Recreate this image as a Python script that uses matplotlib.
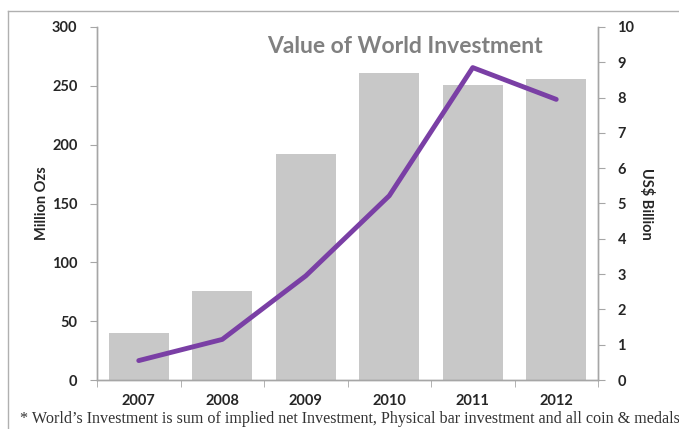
import matplotlib.pyplot as plt
from matplotlib.lines import Line2D
import numpy as np

years = ["2007", "2008", "2009", "2010", "2011", "2012"]
million_ozs = [40, 76, 192, 261, 251, 256]
usd_billion = [0.55, 1.15, 2.95, 5.22, 8.85, 7.95]

left_ticks = [0, 50, 100, 150, 200, 250, 300]
right_ticks = list(range(0, 11))

sans = ["Lato", "DejaVu Sans"]
axis_grey = "#a6a6a6"
text_dark = "#262626"

fig = plt.figure(figsize=(6.79, 4.29), dpi=100)
ax = fig.add_axes([97 / 679, 1 - 380 / 429, 501 / 679, 353 / 429])
ax2 = ax.twinx()

x = np.arange(len(years))
ax.bar(x, million_ozs, width=0.72, color="#c8c8c8", zorder=1)
ax2.plot(x, usd_billion, color="#7a3fa5", linewidth=3.5,
         solid_capstyle="round", zorder=3)

ax.set_xlim(-0.5, len(years) - 0.5)
ax.set_ylim(0, 300)
ax2.set_ylim(0, 10)

ax.set_yticks(left_ticks)
ax2.set_yticks(right_ticks)
ax.set_xticks(x)
ax.set_xticklabels(years)
# category boundary ticks on the x axis
ax.set_xticks(np.arange(-0.5, len(years) + 0.5, 1), minor=True)
ax.tick_params(axis="x", which="major", length=0, pad=10)
ax.tick_params(axis="x", which="minor", length=5, color=axis_grey,
               direction="out")
ax.tick_params(axis="y", length=5, color=axis_grey, pad=9)
ax2.tick_params(axis="y", length=5, color=axis_grey, pad=9)

for a in (ax, ax2):
    for lab in a.get_xticklabels() + a.get_yticklabels():
        lab.set_family(sans)
        lab.set_fontweight("bold")
        lab.set_fontsize(10.5)
        lab.set_color(text_dark)
    a.spines["top"].set_visible(False)
    for side in ("left", "right", "bottom"):
        a.spines[side].set_color(axis_grey)
        a.spines[side].set_linewidth(1.0)

ax.set_ylabel("Million Ozs", family=sans, fontweight="bold", fontsize=10.5,
              color=text_dark, labelpad=2)
ax2.set_ylabel("US$ Billion", family=sans, fontweight="bold", fontsize=10.5,
               color=text_dark, rotation=-90, labelpad=14)

ax.text(0.615, 0.945, "Value of World Investment", transform=ax.transAxes,
        ha="center", va="center", family=sans, fontweight="bold",
        fontsize=16.5, color="#808080")

# outer frame lines along the top and left edges
fig.add_artist(Line2D([8 / 679, 8 / 679], [0, 1 - 11 / 429],
                      transform=fig.transFigure, color="#b0b0b0", lw=1))
fig.add_artist(Line2D([8 / 679, 1], [1 - 11 / 429, 1 - 11 / 429],
                      transform=fig.transFigure, color="#b0b0b0", lw=1))

fig.text(20 / 679, 1 - 419 / 429,
         "* World\u2019s Investment is sum of implied net Investment, "
         "Physical bar investment and all coin & medals",
         ha="left", va="center", family=["Liberation Serif", "DejaVu Serif"],
         fontsize=11.6, color="#333333")

fig.savefig("out.png", dpi=100, facecolor="white")
plt.close(fig)
